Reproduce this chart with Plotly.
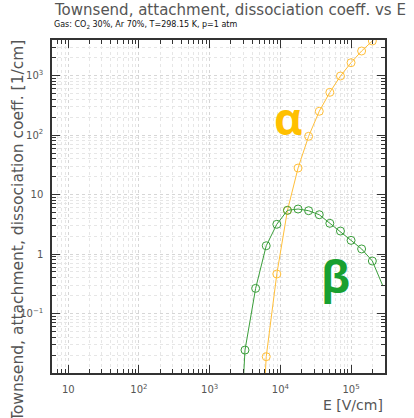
import plotly.graph_objects as go

# Electric field values [V/cm]
E_alpha = [4470, 6310, 8910, 12600, 17800, 25100, 35500, 50100, 70800, 100000, 141000, 200000, 282000]
alpha = [1e-5, 0.0188, 0.462, 5.44, 28.0, 95.6, 252, 525, 988, 1652, 2600, 3830, 5600]
alpha_marked = [False, True, True, True, True, True, True, True, True, True, True, True, False]

E_beta = [2240, 3160, 4470, 6310, 8910, 12600, 17800, 25100, 35500, 50100, 70800, 100000, 141000, 200000, 282000]
beta = [1e-5, 0.0243, 0.265, 1.38, 3.17, 5.44, 5.72, 5.36, 4.59, 3.29, 2.44, 1.70, 1.22, 0.764, 0.29]
beta_marked = [False, True, True, True, True, True, True, True, True, True, True, True, True, True, False]

x_tickvals = [10, 100, 1000, 10000, 100000]
x_ticktext = ["10", "10<sup>2</sup>", "10<sup>3</sup>", "10<sup>4</sup>", "10<sup>5</sup>"]
y_tickvals = [0.1, 1, 10, 100, 1000]
y_ticktext = ["10<sup>−1</sup>", "1", "10", "10<sup>2</sup>", "10<sup>3</sup>"]

ORANGE = "#ffbf3a"
ORANGE_TXT = "#ffc000"
GREEN = "#3a9e3a"
GREEN_TXT = "#18a030"

fig = go.Figure()
for xs, ys, mk, col in [(E_alpha, alpha, alpha_marked, ORANGE), (E_beta, beta, beta_marked, GREEN)]:
    fig.add_trace(go.Scatter(x=xs, y=ys, mode="lines", line=dict(color=col, width=1), hoverinfo="skip"))
    fig.add_trace(go.Scatter(
        x=[x for x, m in zip(xs, mk) if m], y=[y for y, m in zip(ys, mk) if m],
        mode="markers", marker=dict(symbol="circle-open", size=8, color=col, line=dict(width=1, color=col))))

axis_common = dict(
    type="log", showline=True, linecolor="#333", linewidth=1.5, mirror="allticks",
    ticks="inside", ticklen=8, tickcolor="#333", tickwidth=1,
    showgrid=True, gridcolor="#d6d6d6", griddash="dot", gridwidth=1, zeroline=False,
    tickfont=dict(family="DejaVu Sans", size=10, color="#555"),
    minor=dict(ticks="inside", ticklen=4, tickcolor="#333", dtick="D1", showgrid=True,
               gridcolor="#e6e6e6", griddash="dot", gridwidth=1),
)

fig.update_xaxes(range=[0.77, 5.48], tickmode="array", tickvals=x_tickvals, ticktext=x_ticktext,
                 ticklabelstandoff=6, **axis_common)
fig.update_yaxes(range=[-2.0, 3.6], tickmode="array", tickvals=y_tickvals, ticktext=y_ticktext,
                 ticklabelstandoff=5, **axis_common)

fig.update_layout(
    width=414, height=418, margin=dict(l=52, r=29, t=40, b=45),
    paper_bgcolor="white", plot_bgcolor="white", showlegend=False,
    font=dict(family="DejaVu Sans", color="#444"),
    annotations=[
        dict(text="Townsend, attachment, dissociation coeff. vs E", xref="paper", yref="paper",
             x=1.07, y=1.09, xanchor="right", yanchor="middle", showarrow=False,
             font=dict(size=15, color="#555")),
        dict(text="Gas: CO<sub>2</sub> 30%, Ar 70%, T=298.15 K, p=1 atm", xref="paper", yref="paper",
             x=0.0, y=1.045, xanchor="left", yanchor="middle", showarrow=False,
             font=dict(size=8, color="#111")),
        dict(text="Townsend, attachment, dissociation coeff. [1/cm]", xref="paper", yref="paper",
             x=-0.1, y=1.005, xanchor="center", yanchor="top", textangle=-90, showarrow=False,
             font=dict(size=15.5, color="#555")),
        dict(text="E [V/cm]", xref="paper", yref="paper", x=1.0, y=-0.097,
             xanchor="right", yanchor="middle", showarrow=False, font=dict(size=14, color="#555")),
        dict(text="<b>α</b>", xref="paper", yref="paper", x=0.71, y=0.765,
             xanchor="center", yanchor="middle", showarrow=False,
             font=dict(size=44, color=ORANGE_TXT, family="Open Sans")),
        dict(text="<b>β</b>", xref="paper", yref="paper", x=0.85, y=0.29,
             xanchor="center", yanchor="middle", showarrow=False,
             font=dict(size=44, color=GREEN_TXT, family="Open Sans")),
    ],
)

fig.write_html("out.html")
